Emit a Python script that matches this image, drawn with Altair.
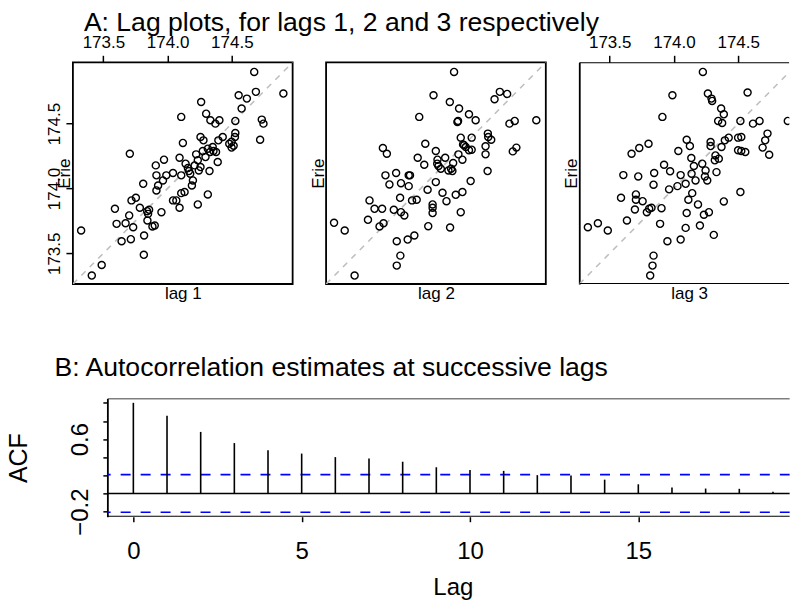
import altair as alt
import pandas as pd

FONT = "Liberation Sans"
BLACK = "black"

# ---------------- data ----------------
# Panel A, lag 1: x = Erie lagged by 1, y = Erie
lag1_x = [174.674, 174.901, 174.687, 174.617, 174.553, 174.576, 174.261, 174.300, 174.106, 174.333,
          174.403, 174.372, 174.527, 174.733, 174.746, 174.720, 174.527, 174.524, 174.498, 174.514,
          174.498, 174.429, 174.395, 174.256, 174.279, 174.119, 173.706, 173.972, 173.908, 174.093,
          174.222, 174.274, 174.313, 174.351, 174.377, 174.390, 174.295, 174.331, 174.140, 174.158,
          174.166, 174.176, 174.235, 174.256, 174.243, 174.326, 174.197, 174.189, 174.042, 174.106,
          173.913, 173.990, 173.964, 173.926, 173.810, 173.913, 174.106, 174.132, 174.313, 174.235,
          174.042, 174.068, 174.093, 173.753, 173.719, 173.590, 173.784, 173.856, 173.848, 173.952,
          173.701, 173.603, 173.673, 173.732, 173.843, 173.882, 173.900, 173.817, 173.714, 173.642,
          173.815, 173.327, 173.487, 173.410, 174.357, 174.210, 173.841, 174.480]
lag1_y = [174.899, 174.732, 174.745, 174.693, 174.719, 174.616, 174.667, 174.577, 174.552, 174.526,
          174.526, 174.500, 174.521, 174.531, 174.500, 174.376, 174.428, 174.397, 174.361, 174.330,
          174.315, 174.397, 174.371, 174.397, 174.371, 174.351, 174.268, 174.222, 174.178, 174.237,
          174.263, 174.289, 174.307, 174.320, 174.281, 174.204, 174.242, 174.281, 174.191, 174.157,
          174.134, 174.114, 174.217, 174.165, 174.139, 174.134, 174.062, 174.023, 174.119, 174.101,
          174.101, 174.101, 174.062, 174.023, 174.036, 173.985, 173.964, 173.972, 173.954, 173.877,
          173.908, 173.908, 173.851, 173.928, 173.908, 173.843, 173.851, 173.835, 173.804, 173.817,
          173.792, 173.727, 173.732, 173.701, 173.753, 173.707, 173.714, 173.637, 173.609, 173.593,
          173.488, 173.676, 173.410, 173.328, 174.289, 174.178, 173.825, 174.345]

# lag 2
lag2_x = [174.259, 174.099, 174.226, 174.298, 174.375, 174.427, 174.285, 174.290, 173.988, 174.574,
          174.615, 174.672, 174.690, 174.731, 174.899, 174.522, 174.525, 174.548, 174.504, 174.504,
          174.520, 174.716, 174.744, 174.311, 174.396, 174.337, 174.350, 174.375, 174.396, 174.035,
          174.117, 174.190, 174.130, 174.138, 174.156, 174.215, 174.246, 174.252, 174.293, 174.324,
          173.976, 174.027, 173.705, 173.736, 173.725, 173.808, 173.756, 173.846, 173.906, 173.916,
          173.906, 174.117, 174.053, 174.169, 174.272, 174.324, 174.388, 173.839, 173.601, 173.640,
          173.699, 173.790, 173.846, 173.872, 173.932, 173.968, 174.092, 174.092, 174.092, 174.200,
          174.311, 173.589, 173.679, 173.710, 173.325, 173.408, 174.058, 174.228, 173.950, 173.898,
          173.813, 173.841, 173.813, 173.485, 174.236, 174.128, 174.329]
lag2_y = [174.899, 174.719, 174.667, 174.616, 174.572, 174.526, 174.513, 174.521, 174.552, 174.688,
          174.745, 174.729, 174.500, 174.521, 174.526, 174.423, 174.397, 174.376, 174.325, 174.263,
          174.134, 174.286, 174.315, 174.392, 174.392, 174.333, 174.320, 174.294, 174.299, 174.345,
          174.289, 174.237, 174.222, 174.173, 174.152, 174.139, 174.134, 174.196, 174.263, 174.222,
          174.237, 174.183, 174.312, 174.268, 174.101, 174.119, 174.031, 174.041, 174.101, 174.101,
          174.018, 174.049, 173.990, 173.967, 173.951, 173.972, 174.057, 173.928, 173.908, 173.843,
          173.843, 173.835, 173.817, 173.792, 173.908, 173.913, 173.877, 173.851, 173.810, 173.902,
          173.817, 173.758, 173.707, 173.732, 173.735, 173.676, 173.709, 173.699, 173.637, 173.606,
          173.593, 173.482, 173.405, 173.328, 174.152, 174.191, 174.340]

# lag 3
lag3_x = [174.225, 173.988, 173.910, 174.264, 174.292, 174.297, 174.367, 174.388, 174.344, 174.375,
          174.573, 174.517, 174.615, 174.666, 174.886, 174.728, 174.710, 174.690, 174.741, 174.499,
          174.524, 174.499, 174.524, 174.555, 174.517, 174.396, 174.426, 174.285, 174.285, 174.323,
          174.318, 174.349, 174.370, 174.099, 174.124, 174.034, 173.802, 173.730, 173.670, 174.135,
          174.155, 174.220, 174.246, 174.331, 174.137, 174.168, 174.259, 174.241, 174.052, 174.091,
          174.027, 173.970, 173.923, 173.846, 173.841, 173.722, 173.606, 173.962, 174.142, 174.112,
          174.187, 174.388, 173.588, 173.704, 173.704, 173.756, 173.696, 173.807, 173.825, 173.903,
          174.099, 174.233, 174.272, 173.634, 173.892, 174.091, 174.202, 174.310, 173.330, 173.408,
          173.485, 173.949, 174.052, 173.841, 173.833, 173.815, 173.789]
lag3_y = [174.899, 174.719, 174.552, 174.732, 174.693, 174.675, 174.616, 174.572, 174.521, 174.505,
          174.740, 174.521, 174.500, 174.521, 174.521, 174.423, 174.371, 174.315, 174.260, 174.392,
          174.397, 174.294, 174.289, 174.281, 173.972, 174.371, 174.392, 174.358, 174.327, 174.255,
          174.217, 174.230, 174.320, 174.376, 174.327, 174.289, 174.345, 174.312, 174.268, 174.235,
          174.173, 174.191, 174.139, 174.126, 174.114, 174.062, 174.062, 174.093, 174.103, 174.036,
          174.018, 174.132, 174.183, 174.119, 174.029, 174.093, 174.103, 173.993, 173.964, 173.913,
          173.877, 173.900, 173.928, 173.954, 173.913, 173.902, 173.838, 173.843, 173.851, 173.848,
          173.810, 173.797, 173.817, 173.753, 173.727, 173.696, 173.714, 173.642, 173.701, 173.732,
          173.676, 173.593, 173.606, 173.482, 173.405, 173.328, 173.817]

lake_ticks = [173.5, 174.0, 174.5]

# Panel B: autocorrelation estimates
acf_lags = list(range(20))
acf_vals = [1.0, 0.856, 0.679, 0.556, 0.477, 0.440, 0.401, 0.386, 0.350, 0.289,
            0.260, 0.249, 0.202, 0.199, 0.152, 0.101, 0.065, 0.054, 0.051, 0.020]
acf_bound = 0.208
acf_ticks_x = [0, 5, 10, 15]
acf_ticks_y = [-0.2, 0.0, 0.2, 0.4, 0.6, 0.8, 1.0]

# ---------------- layout ----------------
LO, HI = 173.263, 174.973          # axis limits of the lag plots
PW, PH = 220, 222                  # lag plot panel size
P3W = 210.3                        # third panel is cut by the page edge
HI3 = LO + P3W * (HI - LO) / PW
AW, AH = 683.3, 118.4              # ACF panel (cut by the page edge)
ACF_X = [-0.772, 19.5]
ACF_Y = [-0.257, 1.048]
FW = 1.8
TFS = 26.6

OPEN_VIEW = alt.ViewBackground(stroke="transparent", strokeWidth=0)


def lag_panel(xs, ys, k, xmax, width, left_labels, top_labels, open_right, title=None):
    pts = pd.DataFrame({"lagged": xs, "Erie": ys})
    diag = pd.DataFrame({"lagged": [LO, xmax], "Erie": [LO, xmax]})
    xsc = alt.Scale(domain=[LO, xmax], nice=False, zero=False)
    ysc = alt.Scale(domain=[LO, HI], nice=False, zero=False)
    xaxis = alt.Axis(orient="top", values=lake_ticks, format=".1f",
                     labels=top_labels, ticks=top_labels, domain=False, grid=False,
                     tickSize=7, tickWidth=1.5, tickColor=BLACK,
                     labelFontSize=17, labelPadding=7.7, labelBaseline="alphabetic",
                     labelColor=BLACK, labelFont=FONT, labelFlush=False, labelOverlap=False,
                     title=f"lag {k}", titleX=PW / 2, titleY=PH + 14.5,
                     titleBaseline="alphabetic", titleAlign="center", titleAngle=0,
                     titleFontSize=17, titleFontWeight="normal", titleFont=FONT, titleColor=BLACK)
    yaxis = alt.Axis(orient="left", values=lake_ticks, format=".1f",
                     labels=left_labels, ticks=left_labels, domain=open_right,
                     domainColor=BLACK, domainWidth=FW, grid=False,
                     tickSize=7, tickWidth=1.5, tickColor=BLACK,
                     labelFontSize=17, labelPadding=6, labelAngle=270, labelAlign="center",
                     labelBaseline="alphabetic", labelColor=BLACK, labelFont=FONT,
                     labelFlush=False, labelOverlap=False,
                     title="Erie", titleX=-3, titleY=PH / 2, titleAngle=270,
                     titleBaseline="alphabetic", titleAlign="center",
                     titleFontSize=17, titleFontWeight="normal", titleFont=FONT, titleColor=BLACK)
    line = alt.Chart(diag).mark_line(color="#bebebe", strokeDash=[6, 6], strokeWidth=1.6,
                                     clip=True).encode(
        x=alt.X("lagged:Q", scale=xsc, axis=xaxis),
        y=alt.Y("Erie:Q", scale=ysc, axis=yaxis))
    points = alt.Chart(pts).mark_point(shape="circle", filled=False, color=BLACK, size=50,
                                       strokeWidth=1.4, opacity=1, clip=True).encode(
        x=alt.X("lagged:Q", scale=xsc, axis=xaxis),
        y=alt.Y("Erie:Q", scale=ysc, axis=yaxis))
    layers = [line, points]
    props = dict(width=width, height=PH)
    if open_right:
        frame = alt.Chart(pd.DataFrame({"Erie": [LO, HI]})).mark_rule(
            color=BLACK, strokeWidth=FW, clip=True).encode(
            y=alt.Y("Erie:Q", scale=ysc, axis=yaxis))
        layers.append(frame)
        props["view"] = OPEN_VIEW
    if title is not None:
        props["title"] = title
    return alt.layer(*layers).properties(**props)


title_a = alt.TitleParams("A: Lag plots, for lags 1, 2 and 3 respectively", anchor="start",
                          frame="group", dx=11, offset=-24.3, baseline="alphabetic",
                          fontSize=TFS, font=FONT, fontWeight="normal", color=BLACK)

p1 = lag_panel(lag1_x, lag1_y, 1, HI, PW, True, True, False, title=title_a)
p2 = lag_panel(lag2_x, lag2_y, 2, HI, PW, False, False, False)
p3 = lag_panel(lag3_x, lag3_y, 3, HI3, P3W, False, True, True)

# ACF panel
acf_df = pd.DataFrame({"lag": acf_lags, "acf": acf_vals})
axsc = alt.Scale(domain=ACF_X, nice=False, zero=False)
aysc = alt.Scale(domain=ACF_Y, nice=False, zero=False)
acf_xaxis = alt.Axis(orient="bottom", values=acf_ticks_x, format="d", domain=False, grid=False,
                     ticks=True, tickSize=5, tickWidth=1.5, tickColor=BLACK,
                     labelFontSize=24, labelPadding=36.6, labelBaseline="alphabetic",
                     labelColor=BLACK, labelFont=FONT, labelFlush=False, labelOverlap=False,
                     title="Lag", titleX=345.9, titleY=78.3, titleBaseline="alphabetic",
                     titleAlign="center", titleFontSize=24, titleFontWeight="normal",
                     titleFont=FONT, titleColor=BLACK)
acf_yaxis = alt.Axis(orient="left", values=acf_ticks_y,
                     labelExpr="abs(datum.value - 0.6) < 0.01 ? '0.6' : (abs(datum.value + 0.2) < 0.01 ? '\u22120.2' : '')",
                     domain=True, domainColor=BLACK, domainWidth=FW, grid=False,
                     ticks=True, tickSize=4.5, tickWidth=1.5, tickColor=BLACK,
                     labelAngle=270, labelAlign="center", labelBaseline="alphabetic",
                     labelPadding=15.5, labelFontSize=24, labelColor=BLACK, labelFont=FONT,
                     labelOverlap=False, labelFlush=False,
                     title="ACF", titleAngle=270, titleX=-80.7, titleY=AH / 2,
                     titleAlign="center", titleBaseline="alphabetic", titleFontSize=25,
                     titleFontWeight="normal", titleFont=FONT, titleColor=BLACK)

bars = alt.Chart(acf_df).mark_rule(color=BLACK, strokeWidth=1.6).encode(
    x=alt.X("lag:Q", scale=axsc, axis=acf_xaxis),
    y=alt.Y("acf:Q", scale=aysc, axis=acf_yaxis),
    y2=alt.datum(0))
zero = alt.Chart(pd.DataFrame({"acf": [0.0]})).mark_rule(
    color=BLACK, strokeWidth=1.6, clip=True).encode(
    y=alt.Y("acf:Q", scale=aysc, axis=acf_yaxis))
bounds = alt.Chart(pd.DataFrame({"acf": [acf_bound, -acf_bound]})).mark_rule(
    color="#0000ff", strokeDash=[10, 10], strokeWidth=1.6, clip=True).encode(
    y=alt.Y("acf:Q", scale=aysc, axis=acf_yaxis))
acf_frame = alt.Chart(pd.DataFrame({"acf": ACF_Y})).mark_rule(
    color=BLACK, strokeWidth=FW, clip=True).encode(
    y=alt.Y("acf:Q", scale=aysc, axis=acf_yaxis))

title_b = alt.TitleParams("B: Autocorrelation estimates at successive lags", anchor="start",
                          frame="group", dx=-52.9, offset=-4.1, baseline="alphabetic",
                          fontSize=TFS, font=FONT, fontWeight="normal", color=BLACK)

acf = alt.layer(bounds, zero, bars, acf_frame).properties(
    width=AW, height=AH, title=title_b, view=OPEN_VIEW)

spacer = alt.Chart(pd.DataFrame({"v": [0]})).mark_point(opacity=0).properties(
    width=0.5, height=1, view=OPEN_VIEW)

row1 = alt.hconcat(p1, p2, p3, spacing=33.5, bounds="flush")
row2 = alt.hconcat(spacer, acf, spacing=33.5, bounds="flush")

chart = alt.vconcat(row1, row2, spacing=PH + 114.6, bounds="flush").properties(
    padding={"left": 6, "top": 9, "right": 0, "bottom": 0},
    background="white",
).configure(font=FONT).configure_view(stroke=BLACK, strokeWidth=FW)

chart.save("out.html", embed_options={"renderer": "svg", "actions": False})
